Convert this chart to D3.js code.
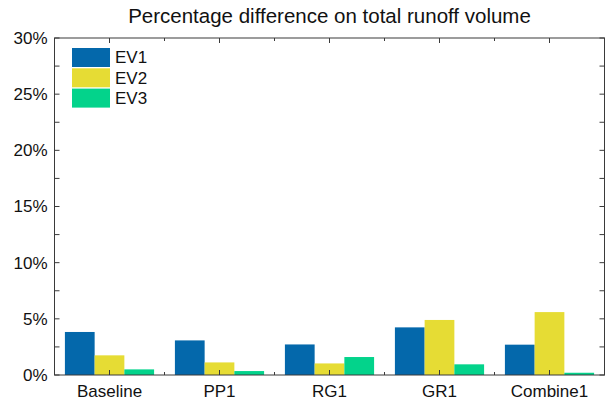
<!DOCTYPE html>
<html><head><meta charset="utf-8">
<script src="https://cdn.jsdelivr.net/npm/d3@7"></script>
<style>body{margin:0;background:#fff}svg{display:block;font-family:Arial,"Liberation Sans",sans-serif}</style>
</head><body><svg id="c" width="606" height="403"></svg>
<script>
const categories = ["Baseline","PP1","RG1","GR1","Combine1"];
const seriesNames = ["EV1","EV2","EV3"];
const EV1 = [3.83, 3.08, 2.72, 4.24, 2.70];
const EV2 = [1.75, 1.12, 1.03, 4.90, 5.60];
const EV3 = [0.50, 0.35, 1.60, 0.95, 0.20];
const yTicks = [0,5,10,15,20,25,30];
const colors = ["#0468ab","#e6dc34","#03d38b"];
const title = "Percentage difference on total runoff volume";

const series = [EV1, EV2, EV3];
const svg = d3.select("#c");
const m = {l:54.5, r:604.5, t:38, b:375};
const x = d3.scaleBand().domain(categories).range([m.l, m.r]);
const xi = d3.scaleBand().domain(seriesNames).range([0, x.bandwidth()]).paddingOuter(0.35).paddingInner(0);
const y = d3.scaleLinear().domain([0,30]).range([m.b, m.t]);
const axisColor = "#3a3a3a";

// bars
categories.forEach((c, ci) => {
  series.forEach((s, si) => {
    svg.append("rect")
      .attr("x", x(c) + xi(seriesNames[si]))
      .attr("width", xi.bandwidth())
      .attr("y", y(s[ci]))
      .attr("height", y(0) - y(s[ci]))
      .attr("fill", colors[si]);
  });
});

// box
svg.append("rect").attr("x", m.l).attr("y", m.t).attr("width", m.r - m.l).attr("height", m.b - m.t)
  .attr("fill","none").attr("stroke", axisColor).attr("stroke-width", 1);

// y ticks
const minorY = d3.range(0, 30.01, 2.5);
minorY.forEach(v => {
  const L = 5;
  svg.append("line").attr("x1", m.l).attr("x2", m.l + L).attr("y1", y(v)).attr("y2", y(v)).attr("stroke", axisColor);
  svg.append("line").attr("x1", m.r).attr("x2", m.r - L).attr("y1", y(v)).attr("y2", y(v)).attr("stroke", axisColor);
});
yTicks.forEach(v => {
  svg.append("text").attr("x", m.l - 7).attr("y", y(v)).attr("dy", "0.35em").attr("text-anchor","end")
    .attr("font-size", 17).attr("fill","#111").text(v + "%");
});

// x ticks (major at centers, minor between)
const xTickPos = [];
categories.forEach((c, i) => {
  xTickPos.push(x(c) + x.bandwidth()/2);
  if (i < categories.length - 1) xTickPos.push(x(c) + x.bandwidth());
});
xTickPos.forEach((p, i) => {
  const L = i % 2 === 0 ? 5 : 3;
  svg.append("line").attr("x1", p).attr("x2", p).attr("y1", m.b).attr("y2", m.b - L).attr("stroke", axisColor);
  svg.append("line").attr("x1", p).attr("x2", p).attr("y1", m.t).attr("y2", m.t + L).attr("stroke", axisColor);
});
categories.forEach(c => {
  svg.append("text").attr("x", x(c) + x.bandwidth()/2).attr("y", 397).attr("text-anchor","middle")
    .attr("font-size", 17).attr("fill","#111").text(c);
});

// title
svg.append("text").attr("x", (m.l + m.r)/2).attr("y", 23).attr("text-anchor","middle")
  .attr("font-size", 20.5).attr("fill","#111").text(title);

// legend
seriesNames.forEach((n, i) => {
  const yy = 48 + i * 20.3;
  svg.append("rect").attr("x", 72).attr("y", yy).attr("width", 38).attr("height", 19)
    .attr("fill", colors[i]);
  svg.append("text").attr("x", 115).attr("y", yy + 9.5).attr("dy","0.35em").attr("font-size", 17)
    .attr("fill","#111").text(n);
});
</script></body></html>
